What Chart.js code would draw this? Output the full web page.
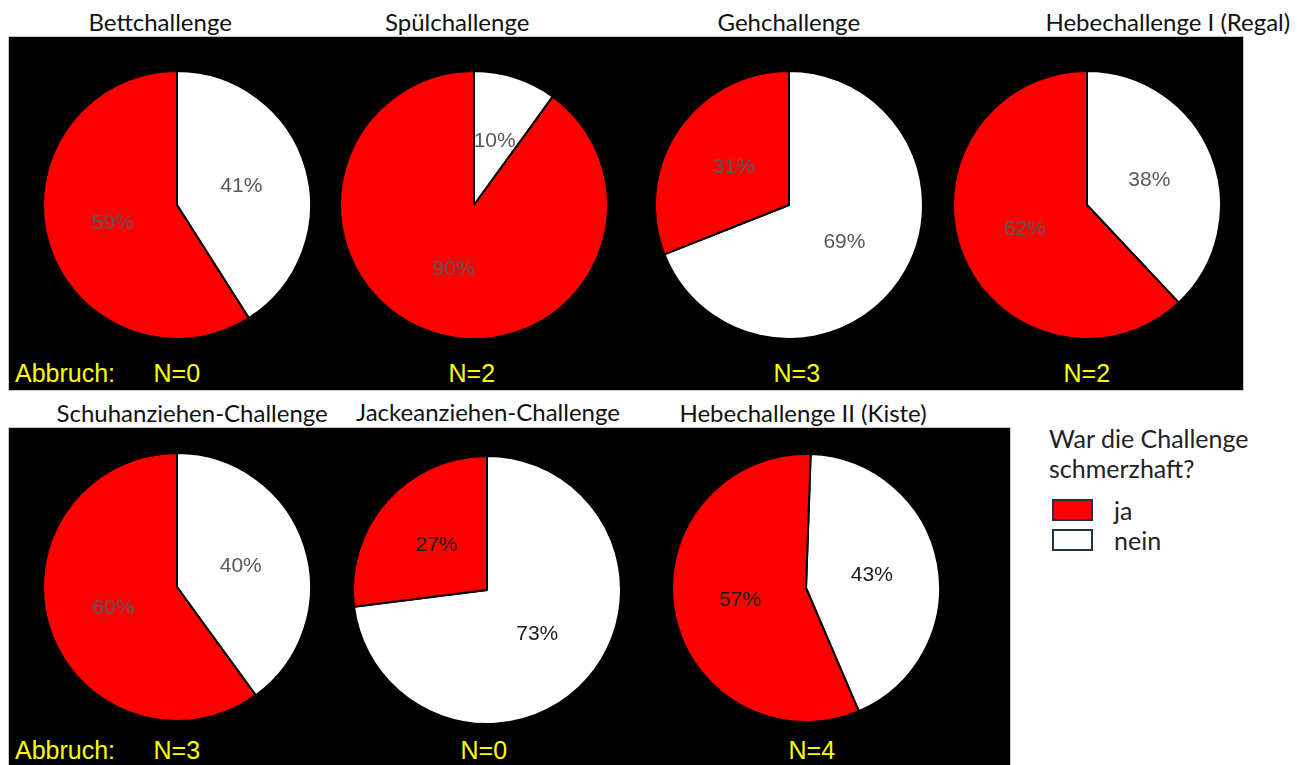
<!DOCTYPE html>
<html>
<head>
<meta charset="utf-8">
<script src="https://cdn.jsdelivr.net/npm/chart.js@4"></script>
<style>
    body { margin: 0; width: 1305px; height: 765px; background: #fff; position: relative; overflow: hidden; font-family: 'Liberation Sans', Arial, sans-serif; }
    .panel { position: absolute; background: #000; border: 1px solid #c8c8c8; box-sizing: border-box; }
    .pie { position: absolute; width: 280px; height: 280px; }
    .title { position: absolute; text-align: center; font-family: Lato, sans-serif; font-size: 24px; line-height: 28px; color: #111; white-space: nowrap; }
    .yellow { position: absolute; color: #ffff00; font-size: 25px; line-height: 28px; white-space: nowrap; }
    .leg { position: absolute; font-family: Lato, sans-serif; font-size: 25px; line-height: 30px; color: #222; white-space: nowrap; }
    .box { position: absolute; width: 37px; height: 18px; border: 2px solid #1f3646; }
</style>
</head>
<body>
<div class="panel" style="left:8px; top:36px; width:1236px; height:355px;"></div>
<div class="panel" style="left:8px; top:427px; width:1003px; height:340px;"></div>

<script>
// Daten aus der Abbildung
const challenges = ['Bettchallenge', 'Spülchallenge', 'Gehchallenge', 'Hebechallenge I (Regal)',
    'Schuhanziehen-Challenge', 'Jackeanziehen-Challenge', 'Hebechallenge II (Kiste)'];
const neinValues = [41, 10, 69, 38, 40, 73, 43];
const jaValues = [59, 90, 31, 62, 60, 27, 57];
const abbruchN = [0, 2, 3, 2, 3, 0, 4];
const seriesLabels = ['nein', 'ja'];

// Layout (Pixel)
const pieCenters = [[177, 205], [474, 205], [789, 205], [1087, 205], [177, 587], [487, 590], [806, 588]];
const titleCenters = [[160, 22], [457, 22], [789, 22], [1168, 22], [192, 413], [488, 412], [803, 413]];
const nCenters = [[177, 373], [472, 373], [797, 373], [1087, 373], [177, 750], [484, 750], [812, 750]];
const rotations = [0, 0, 0, 0, 0, 0, 2];
const labelColors = ['#595959', '#595959', '#595959', '#595959', '#595959', '#1a1a1a', '#1a1a1a'];
const sliceColors = ['#ffffff', '#ff0000'];

// Prozentwerte in die Segmente schreiben
const percentLabels = {
    id: 'percentLabels',
    afterDatasetsDraw(chart, args, opts) {
        const ctx = chart.ctx;
        const meta = chart.getDatasetMeta(0);
        const values = chart.data.datasets[0].data;
        ctx.save();
        ctx.font = '21px "Liberation Sans", Arial, sans-serif';
        ctx.fillStyle = opts.color;
        ctx.textAlign = 'center';
        ctx.textBaseline = 'middle';
        meta.data.forEach((arc, i) => {
            const p = arc.tooltipPosition();
            ctx.fillText(values[i] + '%', p.x, p.y);
        });
        ctx.restore();
    }
};

function addText(cls, text, cx, cy, left) {
    const d = document.createElement('div');
    d.className = cls;
    d.textContent = text;
    document.body.appendChild(d);
    d.style.left = (cx === null ? left : cx - d.offsetWidth / 2) + 'px';
    d.style.top = (cy - d.offsetHeight / 2) + 'px';
    return d;
}

challenges.forEach((name, i) => {
    const wrap = document.createElement('div');
    wrap.className = 'pie';
    wrap.style.left = (pieCenters[i][0] - 140) + 'px';
    wrap.style.top = (pieCenters[i][1] - 140) + 'px';
    const canvas = document.createElement('canvas');
    canvas.width = 280;
    canvas.height = 280;
    wrap.appendChild(canvas);
    document.body.appendChild(wrap);

    new Chart(canvas.getContext('2d'), {
        type: 'pie',
        data: {
            labels: seriesLabels,
            datasets: [{
                data: [neinValues[i], jaValues[i]],
                backgroundColor: sliceColors,
                borderColor: '#000000',
                borderWidth: 2
            }]
        },
        options: {
            responsive: false,
            animation: false,
            rotation: rotations[i],
            layout: { padding: 5 },
            plugins: {
                legend: { display: false },
                tooltip: { enabled: false },
                percentLabels: { color: labelColors[i] }
            }
        },
        plugins: [percentLabels]
    });

    addText('title', name, titleCenters[i][0], titleCenters[i][1]);
    addText('yellow', 'N=' + abbruchN[i], nCenters[i][0], nCenters[i][1]);
});

addText('yellow', 'Abbruch:', null, 373, 15);
addText('yellow', 'Abbruch:', null, 750, 15);

// Legende
addText('leg', 'War die Challenge', null, 438, 1049);
addText('leg', 'schmerzhaft?', null, 468, 1049);
[1, 0].forEach((k, row) => {
    const y = 510 + row * 30;
    const b = document.createElement('div');
    b.className = 'box';
    b.style.background = sliceColors[k];
    b.style.left = '1052px';
    b.style.top = (y - 11) + 'px';
    document.body.appendChild(b);
    addText('leg', seriesLabels[k], null, y, 1114);
});
</script>
</body>
</html>
